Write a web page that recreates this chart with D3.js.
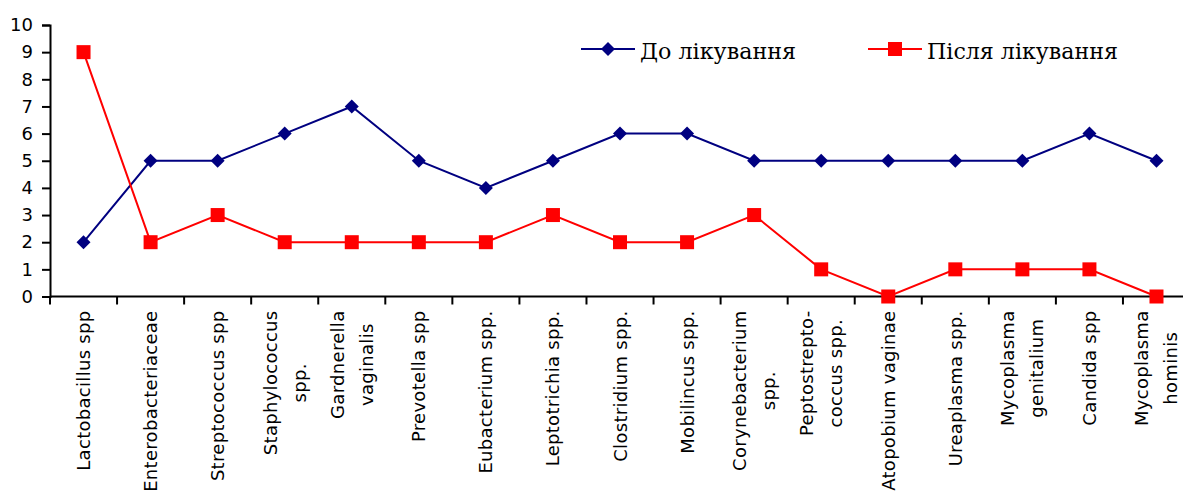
<!DOCTYPE html>
<html>
<head>
<meta charset="utf-8">
<script src="https://cdn.jsdelivr.net/npm/d3@7"></script>
<style>
  body { margin: 0; background: #fff; }
  svg { display: block; }
</style>
</head>
<body>
<div id="chart"></div>
<script>
const categories = [
  ['Lactobacillus spp'],
  ['Enterobacteriaceae'],
  ['Streptococcus spp'],
  ['Staphylococcus', 'spp.'],
  ['Gardnerella', 'vaginalis'],
  ['Prevotella spp'],
  ['Eubacterium spp.'],
  ['Leptotrichia spp.'],
  ['Clostridium spp.'],
  ['Mobilincus spp.'],
  ['Corynebacterium', 'spp.'],
  ['Peptostrepto-', 'coccus spp.'],
  ['Atopobium vaginae'],
  ['Ureaplasma spp.'],
  ['Mycoplasma', 'genitalium'],
  ['Candida spp'],
  ['Mycoplasma', 'hominis']
]
const before = [2, 5, 5, 6, 7, 5, 4, 5, 6, 6, 5, 5, 5, 5, 5, 6, 5]
const after = [9, 2, 3, 2, 2, 2, 2, 3, 2, 2, 3, 1, 0, 1, 1, 1, 0]
const yTicks = d3.range(0, 11)
const seriesNames = ['До лікування', 'Після лікування']

const width = 1183
const height = 504
const margin = { top: 25, left: 50, bottom: 207.5 }
const plotRight = 50 + 17 * 67.06

const svg = d3.select('#chart')
  .append('svg')
  .attr('width', width)
  .attr('height', height)

const x = d3.scaleBand()
  .domain(d3.range(categories.length))
  .range([margin.left, plotRight])

const y = d3.scaleLinear()
  .domain([0, 10])
  .range([height - margin.bottom, margin.top])

const axisFont = 'DejaVu Sans, Verdana, sans-serif'

// y axis
const yAxis = svg.append('g')
  .attr('transform', `translate(${margin.left},0)`)
  .call(d3.axisLeft(y).tickValues(yTicks).tickSize(8).tickPadding(9))
yAxis.select('.domain').attr('stroke', '#000').attr('stroke-width', 2)
yAxis.selectAll('.tick line').attr('stroke', '#000').attr('stroke-width', 2)
yAxis.selectAll('.tick text')
  .attr('fill', '#000')
  .style('font-family', axisFont)
  .style('font-size', '18px')

// x axis (ticks at band boundaries)
const xAxisY = y(0)
const xg = svg.append('g')
svg.append('line')
  .attr('x1', margin.left).attr('x2', width)
  .attr('y1', xAxisY).attr('y2', xAxisY)
  .attr('stroke', '#000').attr('stroke-width', 2)
xg.selectAll('line.tick')
  .data(d3.range(categories.length + 1))
  .join('line')
  .attr('class', 'tick')
  .attr('x1', d => margin.left + d * x.step())
  .attr('x2', d => margin.left + d * x.step())
  .attr('y1', xAxisY)
  .attr('y2', xAxisY + 8)
  .attr('stroke', '#000')
  .attr('stroke-width', 2)

// x labels, rotated
const lineGap = 29
categories.forEach((lines, i) => {
  const cx = x(i) + x.bandwidth() / 2
  const g = svg.append('g')
    .attr('transform', `translate(${cx},${xAxisY + 14}) rotate(-90)`)
  const texts = g.selectAll('text')
    .data(lines)
    .join('text')
    .attr('y', (d, j) => (j - (lines.length - 1) / 2) * lineGap)
    .attr('dominant-baseline', 'central')
    .attr('text-anchor', 'middle')
    .style('font-family', axisFont)
    .style('font-size', '18px')
    .style('letter-spacing', '0.3px')
    .text(d => d)
  let maxW = 0
  texts.each(function () { maxW = Math.max(maxW, this.getComputedTextLength()) })
  texts.attr('x', -maxW / 2)
})

// series
const px = i => x(i) + x.bandwidth() / 2
const line = d3.line().x((d, i) => px(i)).y(d => y(d))

svg.append('path')
  .datum(before)
  .attr('d', line)
  .attr('fill', 'none')
  .attr('stroke', '#000080')
  .attr('stroke-width', 2)

svg.append('path')
  .datum(after)
  .attr('d', line)
  .attr('fill', 'none')
  .attr('stroke', '#ff0000')
  .attr('stroke-width', 2)

const diamond = d3.symbol().type(d3.symbolSquare).size(98)
svg.selectAll('path.dm')
  .data(before)
  .join('path')
  .attr('class', 'dm')
  .attr('d', diamond)
  .attr('transform', (d, i) => `translate(${px(i)},${y(d)}) rotate(45)`)
  .attr('fill', '#000080')

svg.selectAll('rect.sq')
  .data(after)
  .join('rect')
  .attr('class', 'sq')
  .attr('x', (d, i) => px(i) - 7)
  .attr('y', d => y(d) - 7)
  .attr('width', 14)
  .attr('height', 14)
  .attr('fill', '#ff0000')

// legend
const legend = svg.append('g').style('font-family', 'DejaVu Serif, serif')
const legendItems = [
  { name: seriesNames[0], color: '#000080', x0: 581, kind: 'diamond', w: 156 },
  { name: seriesNames[1], color: '#ff0000', x0: 868, kind: 'square', w: 191 }
]
const ly = 49
legendItems.forEach(it => {
  legend.append('line')
    .attr('x1', it.x0).attr('x2', it.x0 + 54)
    .attr('y1', ly).attr('y2', ly)
    .attr('stroke', it.color).attr('stroke-width', 2)
  if (it.kind === 'diamond') {
    legend.append('path')
      .attr('d', diamond)
      .attr('transform', `translate(${it.x0 + 27},${ly}) rotate(45)`)
      .attr('fill', it.color)
  } else {
    legend.append('rect')
      .attr('x', it.x0 + 27 - 7).attr('y', ly - 7)
      .attr('width', 14).attr('height', 14)
      .attr('fill', it.color)
  }
  legend.append('text')
    .attr('x', it.x0 + 59)
    .attr('y', ly + 10)
    .style('font-size', '22px')
    .attr('textLength', it.w)
    .attr('lengthAdjust', 'spacingAndGlyphs')
    .attr('fill', '#000')
    .text(it.name)
})
</script>
</body>
</html>
